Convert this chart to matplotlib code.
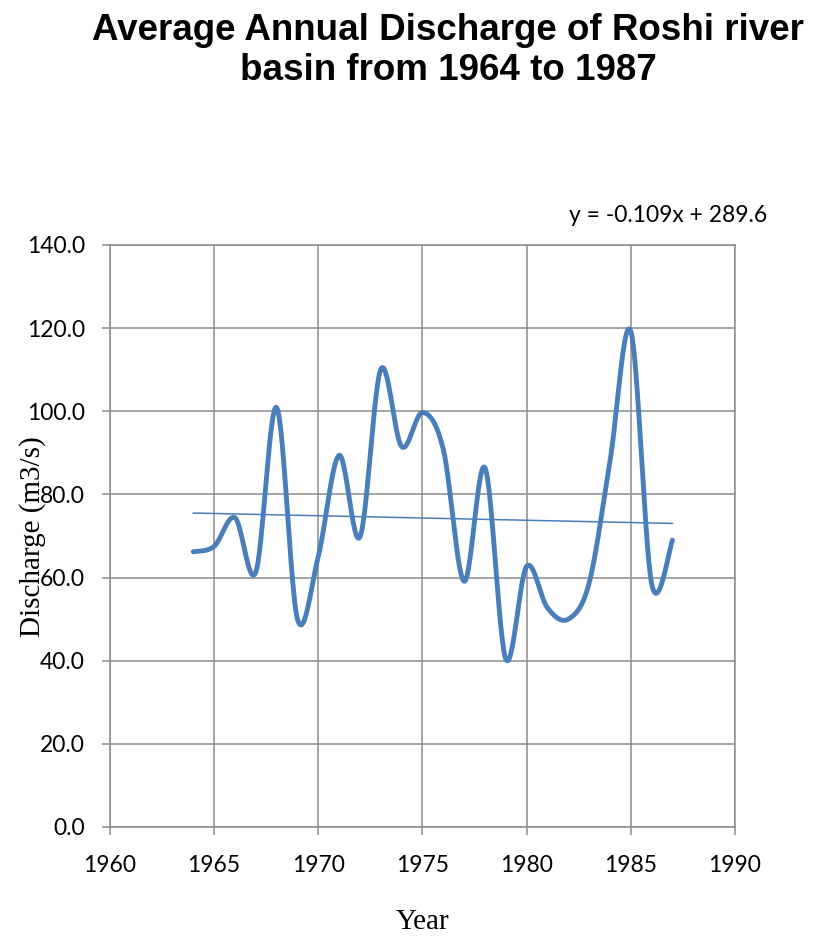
import numpy as np
import matplotlib
matplotlib.use("Agg")
import matplotlib.pyplot as plt

# Yearly average discharge (m3/s)
years = list(range(1964, 1988))
discharge = [66.2, 67.5, 74.4, 61.3, 100.9, 50.0, 65.1, 89.4, 69.8, 110.1,
             91.5, 99.7, 90.8, 59.1, 86.4, 40.4, 62.7, 52.7, 50.0, 58.7,
             88.0, 119.2, 58.5, 69.0]

# Linear trend as printed on the chart
trend_slope = -0.109
trend_icept = 289.6
trend_label = "y = -0.109x + 289.6"

x_ticks = [1960, 1965, 1970, 1975, 1980, 1985, 1990]
y_ticks = [0, 20, 40, 60, 80, 100, 120, 140]

_LINE_COLOR = "#4a7ebb"
_GRID_COLOR = "#8c8c8c"


def smooth_curve(x, y, n=30):
    """Catmull-Rom style smoothing (like a spreadsheet 'smoothed line')."""
    x = np.asarray(x, float)
    y = np.asarray(y, float)
    px = np.concatenate([[x[0]], x, [x[-1]]])
    py = np.concatenate([[y[0]], y, [y[-1]]])
    xs, ys = [], []
    t = np.linspace(0, 1, n)
    for i in range(1, len(px) - 2):
        p0 = np.array([px[i], py[i]])
        p3 = np.array([px[i + 1], py[i + 1]])
        p1 = p0 + (p3 - np.array([px[i - 1], py[i - 1]])) / 6.0
        p2 = p3 - (np.array([px[i + 2], py[i + 2]]) - p0) / 6.0
        b = ((1 - t) ** 3)[:, None] * p0 + (3 * (1 - t) ** 2 * t)[:, None] * p1 \
            + (3 * (1 - t) * t ** 2)[:, None] * p2 + (t ** 3)[:, None] * p3
        xs.extend(b[:, 0])
        ys.extend(b[:, 1])
    return np.array(xs), np.array(ys)


fig = plt.figure(figsize=(8.25, 9.39), dpi=100)
ax = fig.add_axes([0.1333, 0.1193, 0.7576, 0.6198])

sx, sy = smooth_curve(years, discharge)
ax.plot(sx, sy, color=_LINE_COLOR, linewidth=3.5, solid_capstyle="round", zorder=3)

tx = np.array([years[0], years[-1]])
ax.plot(tx, trend_slope * tx + trend_icept, color=_LINE_COLOR, linewidth=1.1, zorder=4)

ax.set_xlim(1960, 1990)
ax.set_ylim(0, 140)
ax.set_xticks(x_ticks)
ax.set_yticks(y_ticks)
ax.set_yticklabels([f"{v:.1f}" for v in y_ticks])
ax.grid(True, color=_GRID_COLOR, linewidth=1.1)
ax.set_axisbelow(True)
for s in ax.spines.values():
    s.set_color(_GRID_COLOR)
    s.set_linewidth(1.1)
ax.tick_params(colors=_GRID_COLOR, labelcolor="black", length=6, width=1.1,
               labelsize=16.5)
ax.tick_params(axis="y", pad=12)
ax.tick_params(axis="x", pad=14)
for lab in ax.get_xticklabels() + ax.get_yticklabels():
    lab.set_family("Lato")

fig.text(0.543, 0.946, "Average Annual Discharge of Roshi river\nbasin from 1964 to 1987",
         ha="center", va="center", fontsize=26.5, fontweight="bold",
         family="Liberation Sans", linespacing=1.2)

fig.text(0.81, 0.771, trend_label, ha="center", va="center", fontsize=16.5, family="Lato")

# the reference's y label sits over the tick labels; kept that way on purpose
fig.text(0.04, 0.428, "Discharge (m3/s)", rotation=90, ha="center", va="center",
         fontsize=21, family="Liberation Serif")
fig.text(0.512, 0.018, "Year", ha="center", va="center", fontsize=21,
         family="Liberation Serif")

fig.savefig("out.png", dpi=100)
